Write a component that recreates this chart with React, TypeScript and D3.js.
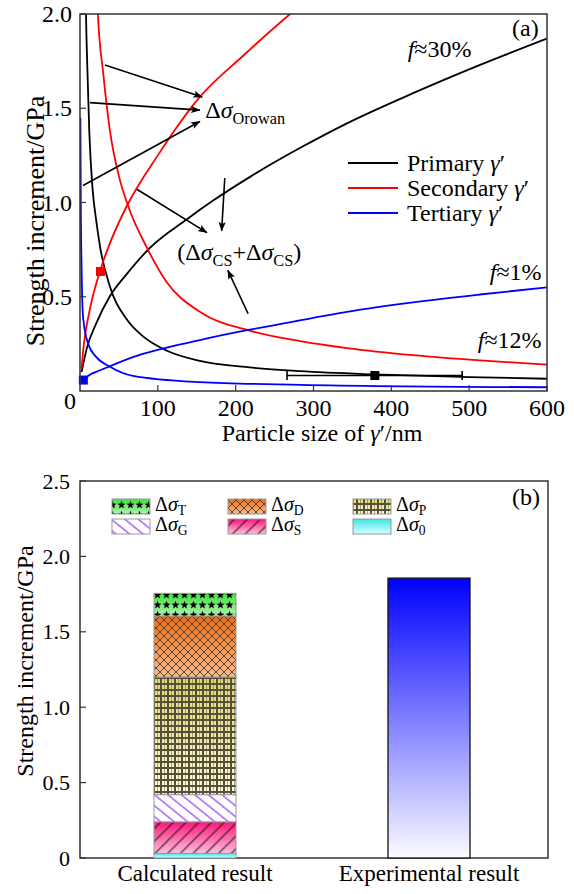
import * as d3 from 'd3';

// ---- panel (a) data: particle size (nm) vs strength increment (GPa) ----
const primaryCS: [number, number][] = [
  [7, 2.2], [7.7, 2.0], [9.4, 1.72], [12, 1.37], [16, 1.08], [21, 0.9], [26, 0.76], [38, 0.56],
  [60, 0.38], [81, 0.29], [111, 0.215], [154, 0.16], [218, 0.125], [283, 0.105], [377, 0.088],
  [500, 0.074], [600, 0.065],
];
const primaryOrowan: [number, number][] = [
  [2, 0.1], [9, 0.23], [21, 0.36], [38, 0.5], [60, 0.62], [90, 0.76], [137, 0.91], [171, 1.01],
  [220, 1.14], [283, 1.29], [343, 1.42], [428, 1.58], [514, 1.73], [600, 1.87],
];
const secondaryCS: [number, number][] = [
  [21, 2.2], [23, 2.0], [30, 1.68], [38.5, 1.38], [50, 1.14], [62, 0.98], [86, 0.76], [111, 0.58],
  [154, 0.42], [218, 0.32], [283, 0.265], [343, 0.228], [428, 0.19], [514, 0.162], [600, 0.14],
];
const secondaryOrowan: [number, number][] = [
  [2, 0.12], [5, 0.25], [12, 0.42], [26, 0.64], [40, 0.8], [60, 0.98], [100, 1.25], [154, 1.56],
  [210, 1.78], [270, 2.0], [300, 2.1],
];
const tertiaryCS: [number, number][] = [
  [0.5, 1.45], [1, 1.0], [2, 0.66], [4, 0.39], [10.5, 0.25], [21, 0.18], [38, 0.13], [68, 0.08],
  [154, 0.047], [283, 0.033], [600, 0.02],
];
const tertiaryOrowan: [number, number][] = [
  [4.3, 0.058], [12, 0.085], [26, 0.11], [68, 0.18], [154, 0.27], [218, 0.325], [257, 0.355],
  [343, 0.42], [428, 0.47], [514, 0.512], [600, 0.55],
];
const measured = [
  { size: 4.3, value: 0.058, color: '#0000ff' },
  { size: 26.3, value: 0.634, color: '#ff0000' },
  { size: 378.8, value: 0.082, color: '#000000', lo: 266, hi: 491 },
];
const xTicksA = [100, 200, 300, 400, 500, 600];
const yTicksA = [0.5, 1.0, 1.5, 2.0];
const seriesNames = ['Primary', 'Secondary', 'Tertiary'];
const seriesColors = ['#000000', '#ff0000', '#0000ff'];

// ---- panel (b) data ----
const categories = ['Calculated result', 'Experimental result'];
const stackKeys = ['0', 'S', 'G', 'P', 'D', 'T'];
const stackValues = [0.03, 0.21, 0.18, 0.78, 0.405, 0.15];
const experimentalValue = 1.856;
const yTicksB = [0, 0.5, 1.0, 1.5, 2.0, 2.5];
const legendOrder = ['T', 'D', 'P', 'G', 'S', '0'];

const FONT = "'Liberation Serif', 'Times New Roman', Times, 'DejaVu Serif', serif";

const A = { left: 80, right: 547, top: 14, bottom: 391 };
const B = { left: 80, right: 548, top: 481, bottom: 858 };

const starPoints = (cx: number, cy: number, r1: number, r2: number) => {
  const pts: string[] = [];
  for (let i = 0; i < 10; i++) {
    const r = i % 2 === 0 ? r1 : r2;
    const a = -Math.PI / 2 + (i * Math.PI) / 5;
    pts.push(`${(cx + r * Math.cos(a)).toFixed(2)},${(cy + r * Math.sin(a)).toFixed(2)}`);
  }
  return pts.join(' ');
};

const Sigma = ({ sub, size, drop }: { sub: string; size: number; drop?: number }) => (
  <>
    Δ<tspan fontStyle="italic">σ</tspan>
    <tspan fontSize={size * 0.68} dy={drop ?? size * 0.25}>{sub}</tspan>
  </>
);

export default function App() {
  const x = d3.scaleLinear().domain([0, 600]).range([A.left, A.right]);
  const y = d3.scaleLinear().domain([0, 2]).range([A.bottom, A.top]);
  const line = d3
    .line<[number, number]>()
    .x((d) => x(d[0]))
    .y((d) => y(d[1]))
    .curve(d3.curveMonotoneX);

  const curves = [
    { data: primaryCS, color: '#000' },
    { data: primaryOrowan, color: '#000' },
    { data: secondaryCS, color: '#ff0000' },
    { data: secondaryOrowan, color: '#ff0000' },
    { data: tertiaryCS, color: '#0000ff' },
    { data: tertiaryOrowan, color: '#0000ff' },
  ];

  // annotation arrows in data units
  const orowanArrows = [
    [[32, 1.73], [157, 1.56]],
    [[12.8, 1.53], [154, 1.49]],
    [[3.9, 1.09], [154, 1.43]],
  ];
  const csArrows = [
    [[73, 1.07], [163, 0.84]],
    [[186, 1.13], [182, 0.85]],
    [[216, 0.41], [190, 0.64]],
  ];

  const xb = d3.scalePoint<string>().domain(categories).range([B.left - 2, B.right - 2]).padding(0.5);
  const yb = d3.scaleLinear().domain([0, 2.5]).range([B.bottom, B.top]);
  const barW = 82;
  let acc = 0;
  const stack = stackKeys.map((k, i) => {
    const s = { key: k, y0: acc, y1: acc + stackValues[i] };
    acc += stackValues[i];
    return s;
  });

  const fills: Record<string, { top: string; bottom: string }> = {
    T: { top: '#3ee03e', bottom: '#b0f2b0' },
    D: { top: '#ee6e10', bottom: '#f8bc8c' },
    P: { top: '#e0d670', bottom: '#fffbd8' },
    G: { top: '#ffffff', bottom: '#ffffff' },
    S: { top: '#ff1478', bottom: '#ffc0dc' },
    '0': { top: '#3ee6e6', bottom: '#d8ffff' },
  };

  const arrowPath = (p: number[][], id: string) => (
    <line
      key={id}
      x1={x(p[0][0])}
      y1={y(p[0][1])}
      x2={x(p[1][0])}
      y2={y(p[1][1])}
      stroke="#000"
      strokeWidth={1.6}
      markerEnd="url(#arrowHead)"
    />
  );

  return (
    <svg
      width={574}
      height={894}
      style={{ position: 'absolute', left: 0, top: 0, background: '#fff', fontFamily: FONT }}
    >
      <defs>
        <clipPath id="clipA">
          <rect x={A.left} y={A.top} width={A.right - A.left} height={A.bottom - A.top} />
        </clipPath>
        <marker id="arrowHead" viewBox="0 0 12 10" refX={11} refY={5} markerWidth={11} markerHeight={8} markerUnits="userSpaceOnUse" orient="auto">
          <path d="M0,0.5 L12,5 L0,9.5 L2.5,5 z" fill="#000" />
        </marker>
        {Object.entries(fills).map(([k, f]) => (
          <linearGradient key={k} id={`grad${k}`} x1="0" y1="0" x2="0" y2="1">
            <stop offset="0" stopColor={f.top} />
            <stop offset="1" stopColor={f.bottom} />
          </linearGradient>
        ))}
        <linearGradient id="gradExp" x1="0" y1="0" x2="0" y2="1">
          <stop offset="0" stopColor="#0000ff" />
          <stop offset="1" stopColor="#fbfbff" />
        </linearGradient>
        <pattern id="patT" patternUnits="userSpaceOnUse" width={9} height={10}>
          <polygon points={starPoints(4.5, 5, 4.2, 1.8)} fill="#000" />
        </pattern>
        <pattern id="patD" patternUnits="userSpaceOnUse" width={8} height={8}>
          <path d="M0,0 L8,8 M8,0 L0,8" stroke="#4a3a30" strokeWidth={0.9} />
        </pattern>
        <pattern id="patP" patternUnits="userSpaceOnUse" width={7} height={6}>
          <rect x={0.5} y={0.5} width={6} height={5} fill="none" stroke="#55503a" strokeWidth={1} />
          <line x1={3.5} y1={0} x2={3.5} y2={6} stroke="#55503a" strokeWidth={0.5} />
        </pattern>
        <pattern id="patG" patternUnits="userSpaceOnUse" width={20} height={8.5} patternTransform="rotate(39)">
          <line x1={0} y1={2} x2={20} y2={2} stroke="#8a3cf0" strokeWidth={1.2} />
        </pattern>
        <pattern id="patS" patternUnits="userSpaceOnUse" width={20} height={9} patternTransform="rotate(-45)">
          <line x1={0} y1={2} x2={20} y2={2} stroke="#111" strokeWidth={1} />
        </pattern>
        <pattern id="pat0" patternUnits="userSpaceOnUse" width={10} height={10}>
          <rect width={10} height={10} fill="none" />
        </pattern>
      </defs>

      {/* ================= panel (a) ================= */}
      <g clipPath="url(#clipA)">
        {curves.map((c, i) => (
          <path key={i} d={line(c.data) ?? ''} fill="none" stroke={c.color} strokeWidth={1.8} />
        ))}
      </g>
      {measured.map((m, i) => (
        <g key={i}>
          {m.lo !== undefined && (
            <g stroke={m.color} strokeWidth={1.6}>
              <line x1={x(m.lo)} x2={x(m.hi!)} y1={y(m.value)} y2={y(m.value)} />
              <line x1={x(m.lo)} x2={x(m.lo)} y1={y(m.value) - 4.5} y2={y(m.value) + 4.5} />
              <line x1={x(m.hi!)} x2={x(m.hi!)} y1={y(m.value) - 4.5} y2={y(m.value) + 4.5} />
            </g>
          )}
          <rect x={x(m.size) - 4.5} y={y(m.value) - 4.5} width={9} height={9} fill={m.color} />
        </g>
      ))}
      {orowanArrows.map((p, i) => arrowPath(p, `o${i}`))}
      {csArrows.map((p, i) => arrowPath(p, `c${i}`))}
      <text x={x(161)} y={y(1.45)} fontSize={24}>
        <Sigma sub="Orowan" size={24} />
      </text>
      <text x={x(125)} y={y(0.695)} fontSize={24}>
        (<Sigma sub="CS" size={24} />
        <tspan dy={-6}>+</tspan>
        <Sigma sub="CS" size={24} />
        <tspan dy={-6}>)</tspan>
      </text>
      <text x={x(421)} y={y(1.77)} fontSize={24}>
        <tspan fontStyle="italic">f</tspan>≈30%
      </text>
      <text x={x(593)} y={y(0.59)} fontSize={24} textAnchor="end">
        <tspan fontStyle="italic">f</tspan>≈1%
      </text>
      <text x={x(593)} y={y(0.23)} fontSize={24} textAnchor="end">
        <tspan fontStyle="italic">f</tspan>≈12%
      </text>
      <text x={512} y={36} fontSize={24}>(a)</text>

      {/* legend (a) */}
      {seriesNames.map((n, i) => (
        <g key={n} transform={`translate(348,${163 + i * 25})`}>
          <line x1={0} x2={50} y1={0} y2={0} stroke={seriesColors[i]} strokeWidth={2} />
          <text x={59} y={8} fontSize={24}>
            {n} <tspan fontStyle="italic">γ</tspan>′
          </text>
        </g>
      ))}

      {/* frame + ticks (a) */}
      <rect x={A.left} y={A.top} width={A.right - A.left} height={A.bottom - A.top} fill="none" stroke="#333" strokeWidth={1.5} />
      {xTicksA.map((t) => (
        <g key={t}>
          <line x1={x(t)} x2={x(t)} y1={A.bottom} y2={A.bottom - 6} stroke="#333" strokeWidth={1.2} />
          <text x={x(t)} y={416} fontSize={24} textAnchor="middle">{t}</text>
        </g>
      ))}
      {yTicksA.map((t) => (
        <g key={t}>
          <line x1={A.left} x2={A.left + 6} y1={y(t)} y2={y(t)} stroke="#333" strokeWidth={1.2} />
          <text x={72} y={y(t) + 8} fontSize={24} textAnchor="end">{t.toFixed(1)}</text>
        </g>
      ))}
      <text x={70} y={409} fontSize={24} textAnchor="middle">0</text>
      <text x={322} y={441} fontSize={24} textAnchor="middle">
        Particle size of <tspan fontStyle="italic">γ</tspan>′/nm
      </text>
      <text transform={`translate(35,221) rotate(-90)`} fontSize={26} textAnchor="middle" dy={9}>
        Strength increment/GPa
      </text>

      {/* ================= panel (b) ================= */}
      <rect x={B.left} y={B.top} width={B.right - B.left} height={B.bottom - B.top} fill="none" stroke="#333" strokeWidth={1.5} />
      {stack.map((s) => (
        <g key={s.key}>
          <rect x={xb(categories[0])! - barW / 2} y={yb(s.y1)} width={barW} height={yb(s.y0) - yb(s.y1)} fill={`url(#grad${s.key})`} />
          <rect x={xb(categories[0])! - barW / 2} y={yb(s.y1)} width={barW} height={yb(s.y0) - yb(s.y1)} fill={`url(#pat${s.key})`} stroke="#999" strokeWidth={1} />
        </g>
      ))}
      <rect
        x={xb(categories[1])! - barW / 2}
        y={yb(experimentalValue)}
        width={barW}
        height={yb(0) - yb(experimentalValue)}
        fill="url(#gradExp)"
        stroke="#111"
        strokeWidth={1.3}
      />
      {yTicksB.map((t) => (
        <g key={t}>
          <line x1={B.left} x2={B.left + 6} y1={yb(t)} y2={yb(t)} stroke="#333" strokeWidth={1.2} />
          <text x={70} y={yb(t) + 7.5} fontSize={22} textAnchor="end">{t === 0 ? '0' : t.toFixed(1)}</text>
        </g>
      ))}
      {categories.map((c) => (
        <text key={c} x={xb(c)} y={881} fontSize={23} textAnchor="middle">{c}</text>
      ))}
      <text transform={`translate(25,661) rotate(-90)`} fontSize={24} textAnchor="middle" dy={8}>
        Strength increment/GPa
      </text>
      <text x={512} y={505} fontSize={24}>(b)</text>

      {/* legend (b) */}
      {legendOrder.map((k, i) => {
        const col = i % 3;
        const row = Math.floor(i / 3);
        const sx = [112, 228, 353][col];
        const sy = 499 + row * 20;
        return (
          <g key={k}>
            <rect x={sx} y={sy} width={38} height={15} fill={`url(#grad${k})`} />
            <rect x={sx} y={sy} width={38} height={15} fill={`url(#pat${k})`} stroke="#999" strokeWidth={1} />
            <text x={sx + 43} y={sy + 12} fontSize={20}>
              <Sigma sub={k} size={20} drop={3.5} />
            </text>
          </g>
        );
      })}
    </svg>
  );
}
